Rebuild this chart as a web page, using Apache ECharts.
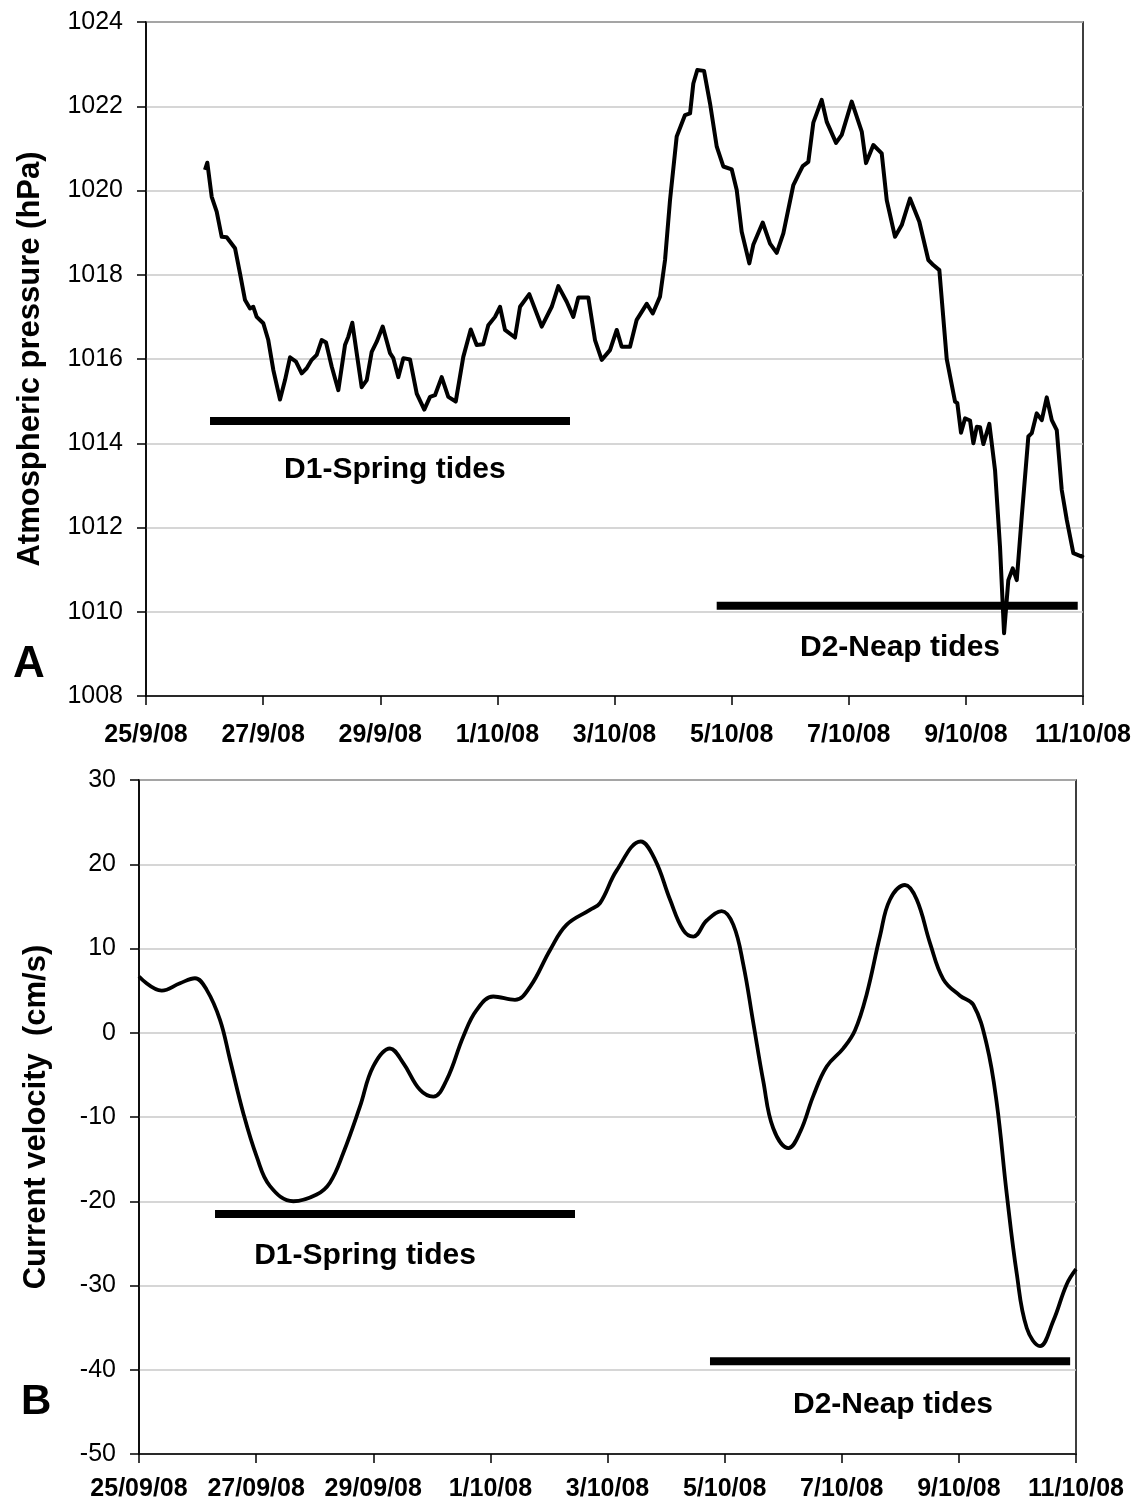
<!DOCTYPE html>
<html>
<head>
<meta charset="utf-8">
<script src="https://cdn.jsdelivr.net/npm/echarts@6/dist/echarts.min.js"></script>
<style>html,body{margin:0;padding:0;background:#fff}#main{width:1135px;height:1508px}</style>
</head>
<body>
<div id="main"></div>
<script>
// ---- Tick labels ----
const topXLabels = ["25/9/08","27/9/08","29/9/08","1/10/08","3/10/08","5/10/08","7/10/08","9/10/08","11/10/08"];
const bottomXLabels = ["25/09/08","27/09/08","29/09/08","1/10/08","3/10/08","5/10/08","7/10/08","9/10/08","11/10/08"];

// ---- Panel A: atmospheric pressure (days since 25/9/08 00:00) ----
const pressureDays = [1.007,1.047,1.122,1.207,1.293,1.378,1.520,1.605,1.691,1.776,1.832,1.890,2.003,2.088,2.174,2.288,2.374,2.459,2.561,2.659,2.744,2.830,2.915,3.000,3.074,3.171,3.284,3.398,3.455,3.523,3.598,3.683,3.769,3.854,3.940,4.042,4.167,4.223,4.308,4.394,4.508,4.623,4.752,4.850,4.935,5.049,5.162,5.289,5.418,5.545,5.647,5.760,5.845,5.960,6.045,6.130,6.301,6.387,6.545,6.757,6.928,7.041,7.184,7.297,7.382,7.553,7.667,7.782,7.923,8.038,8.123,8.265,8.379,8.550,8.653,8.777,8.863,8.948,9.062,9.204,9.290,9.346,9.414,9.529,9.631,9.746,9.858,10.002,10.087,10.172,10.302,10.370,10.531,10.656,10.770,10.883,11.054,11.139,11.214,11.310,11.395,11.538,11.624,11.783,11.880,12.051,12.222,12.295,12.420,12.563,12.649,12.790,12.905,13.046,13.205,13.359,13.444,13.547,13.673,13.815,13.854,13.917,13.986,14.071,14.128,14.186,14.242,14.299,14.401,14.498,14.583,14.652,14.725,14.800,14.869,14.954,15.067,15.125,15.210,15.296,15.381,15.467,15.552,15.637,15.723,15.835,15.979,16.0];
const pressureValues = [1020.49,1020.66,1019.85,1019.5,1018.9,1018.89,1018.63,1018.03,1017.4,1017.2,1017.24,1017.0,1016.85,1016.45,1015.74,1015.04,1015.5,1016.04,1015.94,1015.66,1015.78,1015.98,1016.1,1016.45,1016.39,1015.82,1015.26,1016.33,1016.53,1016.86,1016.14,1015.33,1015.5,1016.17,1016.41,1016.77,1016.14,1016.02,1015.57,1016.02,1015.99,1015.18,1014.8,1015.1,1015.14,1015.57,1015.1,1014.99,1016.05,1016.7,1016.33,1016.35,1016.8,1017.0,1017.24,1016.69,1016.51,1017.24,1017.54,1016.77,1017.24,1017.73,1017.36,1017.0,1017.46,1017.46,1016.45,1015.98,1016.21,1016.69,1016.29,1016.29,1016.93,1017.31,1017.08,1017.48,1018.35,1019.77,1021.28,1021.79,1021.83,1022.54,1022.86,1022.84,1022.07,1021.04,1020.57,1020.5,1020.01,1019.02,1018.27,1018.71,1019.24,1018.74,1018.52,1018.98,1020.13,1020.37,1020.58,1020.68,1021.61,1022.15,1021.63,1021.13,1021.32,1022.11,1021.4,1020.65,1021.08,1020.88,1019.77,1018.9,1019.18,1019.81,1019.26,1018.35,1018.23,1018.11,1016.0,1014.99,1014.95,1014.25,1014.59,1014.54,1014.0,1014.39,1014.38,1013.98,1014.46,1013.36,1011.54,1009.49,1010.75,1011.03,1010.75,1012.26,1014.16,1014.24,1014.71,1014.55,1015.09,1014.55,1014.31,1012.89,1012.18,1011.39,1011.31,1011.35];

// ---- Panel B: current velocity (cm/s) ----
const velocityDays = [0.0,0.388,0.70,0.956,1.156,1.383,1.554,1.781,2.01,2.237,2.635,3.035,3.26,3.49,3.774,4.0,4.286,4.513,4.798,5.026,5.254,5.538,5.767,6.05,6.42,6.68,7.02,7.30,7.70,7.872,8.157,8.567,8.811,9.067,9.295,9.466,9.694,9.95,10.149,10.32,10.49,10.66,10.83,11.09,11.29,11.516,11.743,12.027,12.227,12.427,12.654,12.824,13.08,13.28,13.507,13.735,14.02,14.247,14.476,14.646,14.817,14.988,15.159,15.386,15.613,15.84,16.0];
const velocityValues = [6.67,5.0,5.88,6.47,5.09,1.53,-3.2,-9.55,-14.7,-18.2,-20.0,-19.2,-17.8,-14.25,-8.75,-4.0,-1.87,-3.6,-6.77,-7.57,-5.59,-0.44,2.72,4.30,3.9,5.48,9.83,12.8,14.58,15.39,19.27,22.7,20.56,15.82,12.16,11.42,13.32,14.44,12.8,8.06,1.16,-5.73,-11.34,-13.7,-11.77,-7.46,-4.0,-1.85,0.30,4.61,11.51,15.82,17.54,15.82,10.65,6.34,4.40,3.32,-1.42,-8.32,-19.1,-28.58,-35.04,-37.2,-34.18,-29.87,-28.06];

// ---- Tide periods (start day, end day, level) and their labels ----
const tideNames = ["D1-Spring tides","D2-Neap tides"];
const pressureTideStart = [1.093, 9.745];
const pressureTideEnd = [7.240, 15.91];
const pressureTideLevel = [1014.53, 1010.14];
const pressureTideLabelX = [4.25, 12.875];
const pressureTideLabelY = [1013.37, 1009.14];
const velocityTideStart = [1.298, 9.75];
const velocityTideEnd = [7.445, 15.9];
const velocityTideLevel = [-21.5, -39.0];
const velocityTideLabelX = [3.86, 12.875];
const velocityTideLabelY = [-26.46, -44.1];

const FONT = "'Liberation Sans', Arial, sans-serif";
const zip = (a, b) => a.map((v, i) => [v, b[i]]);

function xAxisCfg(gi, labels, margin) {
  return {
    gridIndex: gi, type: 'value', min: 0, max: 16, interval: 2,
    axisLine: { show: true, onZero: false, lineStyle: { color: '#000', width: 1.5 } },
    axisTick: { show: true, length: 9, lineStyle: { color: '#000', width: 1.5 } },
    axisLabel: { formatter: v => labels[Math.round(v / 2)], fontFamily: FONT, fontWeight: 'bold', fontSize: 25, color: '#000', margin },
    splitLine: { show: false }
  };
}
function yAxisCfg(gi, min, max, interval, name, gap) {
  return {
    gridIndex: gi, type: 'value', min, max, interval,
    name, nameLocation: 'middle', nameGap: gap, nameRotate: 90,
    nameTextStyle: { fontFamily: FONT, fontWeight: 'bold', fontSize: 31, color: '#000' },
    axisLine: { show: true, onZero: false, lineStyle: { color: '#000', width: 1.5 } },
    axisTick: { show: true, length: 9, lineStyle: { color: '#000', width: 1.5 } },
    axisLabel: { formatter: v => String(v), fontFamily: FONT, fontSize: 25, color: '#000', margin: 23 },
    splitLine: { show: true, lineStyle: { color: '#c8c8c8', width: 1.5 } }
  };
}
function tideSeries(gi, starts, ends, levels) {
  return starts.map((s, i) => ({
    type: 'line', xAxisIndex: gi, yAxisIndex: gi, silent: true,
    data: [[s, levels[i]], [ends[i], levels[i]]],
    showSymbol: false, symbol: 'none',
    lineStyle: { color: '#000', width: 8, cap: 'butt' }, z: 3
  }));
}

const chart = echarts.init(document.getElementById('main'));
chart.setOption({
  animation: false,
  backgroundColor: '#fff',
  grid: [
    { left: 146, top: 22, right: 52, bottom: 812, show: true, borderColor: '#000', borderWidth: 1.5, backgroundColor: 'transparent' },
    { left: 139, top: 780, right: 59, bottom: 54, show: true, borderColor: '#000', borderWidth: 1.5, backgroundColor: 'transparent' }
  ],
  xAxis: [xAxisCfg(0, topXLabels, 27), xAxisCfg(1, bottomXLabels, 23)],
  yAxis: [
    yAxisCfg(0, 1008, 1024, 2, 'Atmospheric pressure (hPa)', 100),
    yAxisCfg(1, -50, 30, 10, 'Current velocity  (cm/s)', 87)
  ],
  series: [
    { type: 'line', xAxisIndex: 0, yAxisIndex: 0, data: zip(pressureDays, pressureValues), showSymbol: false, symbol: 'none',
      lineStyle: { color: '#000', width: 4, join: 'round' }, z: 4 },
    { type: 'line', xAxisIndex: 1, yAxisIndex: 1, data: zip(velocityDays, velocityValues), showSymbol: false, symbol: 'none', smooth: 0.4,
      lineStyle: { color: '#000', width: 3.8 }, z: 4 },
    ...tideSeries(0, pressureTideStart, pressureTideEnd, pressureTideLevel),
    ...tideSeries(1, velocityTideStart, velocityTideEnd, velocityTideLevel)
  ]
});

// Annotation texts, positioned from data coordinates
const g = [];
tideNames.forEach((t, i) => {
  const p = chart.convertToPixel({ xAxisIndex: 0, yAxisIndex: 0 }, [pressureTideLabelX[i], pressureTideLabelY[i]]);
  g.push({ type: 'text', x: p[0], y: p[1], style: { text: t, font: 'bold 30px ' + FONT, fill: '#000', align: 'center', verticalAlign: 'middle' } });
  const q = chart.convertToPixel({ xAxisIndex: 1, yAxisIndex: 1 }, [velocityTideLabelX[i], velocityTideLabelY[i]]);
  g.push({ type: 'text', x: q[0], y: q[1], style: { text: t, font: 'bold 30px ' + FONT, fill: '#000', align: 'center', verticalAlign: 'middle' } });
});
g.push({ type: 'text', left: 13, top: 643, style: { text: 'A', font: 'bold 44px ' + FONT, fill: '#000' } });
g.push({ type: 'text', left: 21, top: 1381, style: { text: 'B', font: 'bold 42px ' + FONT, fill: '#000' } });
chart.setOption({ graphic: g });
</script>
</body>
</html>
